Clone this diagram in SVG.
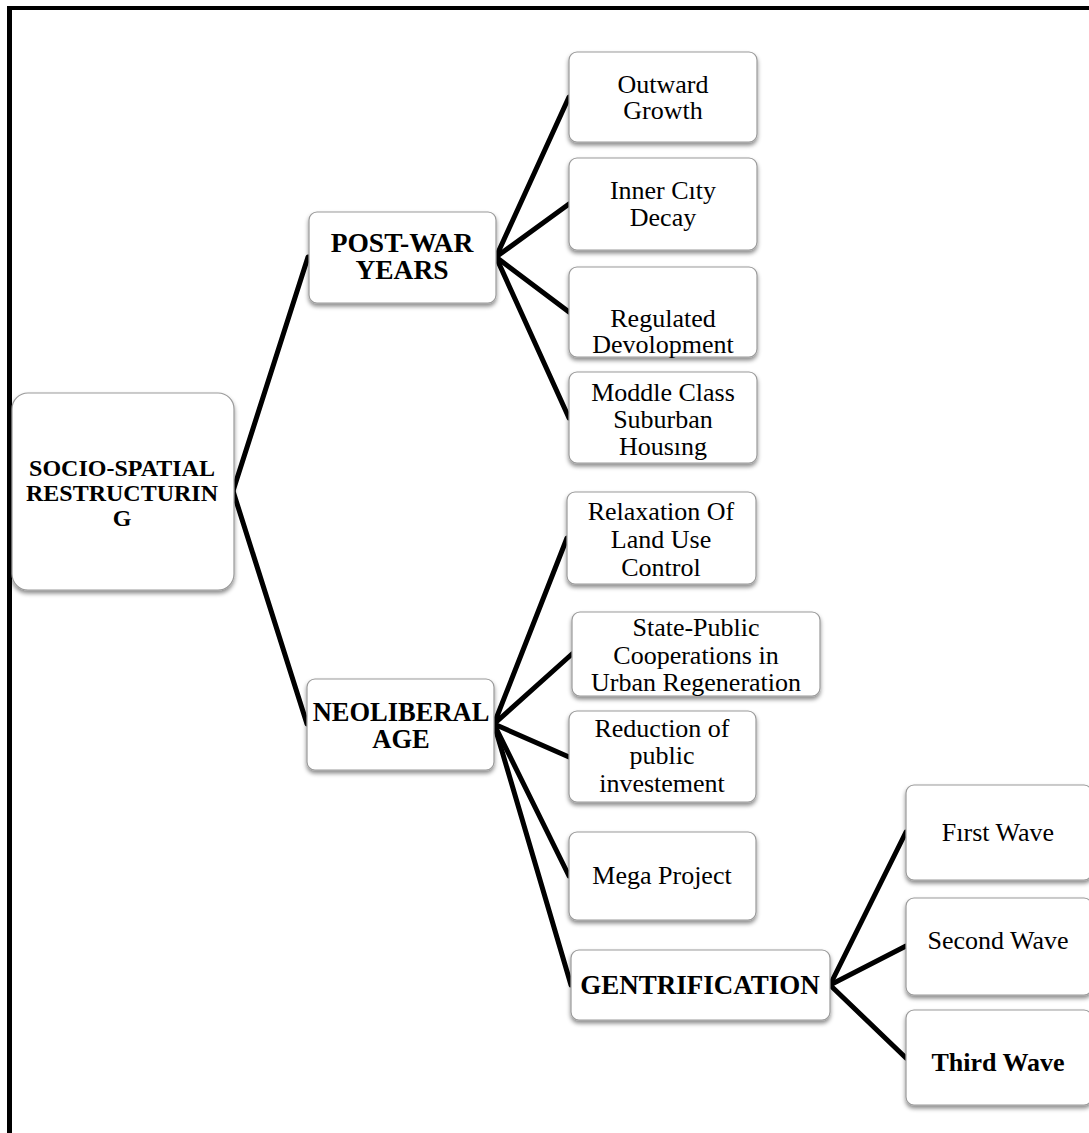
<svg xmlns="http://www.w3.org/2000/svg" width="1089" height="1133" viewBox="0 0 1089 1133">
<defs>
<filter id="sh" x="-10%" y="-10%" width="120%" height="130%">
<feDropShadow dx="0" dy="3" stdDeviation="2" flood-color="#000" flood-opacity="0.45"/>
</filter>
<style>
.box{fill:#fff;stroke:#9a9a9a;stroke-width:1.2;filter:url(#sh)}
.t{font-family:"Liberation Serif","Times New Roman",serif;font-size:26px;fill:#000;text-anchor:middle}
.b{font-weight:bold}
.r{font-size:24px}
.h{font-size:27.5px}
.n{font-size:26.5px}
.g{font-size:27px}
.c line{stroke:#000;stroke-width:5;stroke-linecap:round}
</style>
</defs>
<rect width="1089" height="1133" fill="#fff"/>
<g id="frame">
<rect x="7" y="6" width="1082" height="4" fill="#000"/>
<rect x="7" y="6" width="5" height="1127" fill="#000"/>
</g>
<g class="c" id="connectors">
<line x1="233" y1="491" x2="308" y2="257"/>
<line x1="233" y1="491" x2="307" y2="724"/>
<line x1="496" y1="257" x2="569" y2="97"/>
<line x1="496" y1="257" x2="569" y2="204"/>
<line x1="496" y1="257" x2="569" y2="312"/>
<line x1="496" y1="257" x2="569" y2="418"/>
<line x1="494" y1="724" x2="567" y2="538"/>
<line x1="494" y1="724" x2="572" y2="654"/>
<line x1="494" y1="724" x2="569" y2="757"/>
<line x1="494" y1="724" x2="569" y2="876"/>
<line x1="494" y1="724" x2="571" y2="985"/>
<line x1="830" y1="985" x2="906" y2="832"/>
<line x1="830" y1="985" x2="906" y2="946"/>
<line x1="830" y1="985" x2="906" y2="1058"/>
</g>
<g id="root"><rect class="box" x="12" y="393" width="222" height="197" rx="16"/>
<text class="t b r" x="122" y="476">SOCIO-SPATIAL</text>
<text class="t b r" x="122" y="501">RESTRUCTURIN</text>
<text class="t b r" x="122" y="526">G</text></g>
<g id="postwar"><rect class="box" x="309" y="212" width="187" height="91" rx="8"/>
<text class="t b h" x="402" y="252">POST-WAR</text>
<text class="t b h" x="402" y="279">YEARS</text></g>
<g id="outward"><rect class="box" x="569" y="52" width="188" height="90" rx="8"/>
<text class="t" x="663" y="93">Outward</text>
<text class="t" x="663" y="119">Growth</text></g>
<g id="inner"><rect class="box" x="569" y="158" width="188" height="92" rx="8"/>
<text class="t" x="663" y="199">Inner Cıty</text>
<text class="t" x="663" y="226">Decay</text></g>
<g id="regulated"><rect class="box" x="569" y="267" width="188" height="90" rx="8"/>
<text class="t" x="663" y="327">Regulated</text>
<text class="t" x="663" y="353">Devolopment</text></g>
<g id="moddle"><rect class="box" x="569" y="372" width="188" height="91" rx="8"/>
<text class="t" x="663" y="401">Moddle Class</text>
<text class="t" x="663" y="428">Suburban</text>
<text class="t" x="663" y="455">Housıng</text></g>
<g id="neoliberal"><rect class="box" x="307" y="679" width="187" height="91" rx="8"/>
<text class="t b n" x="401" y="721">NEOLIBERAL</text>
<text class="t b n" x="401" y="748">AGE</text></g>
<g id="relaxation"><rect class="box" x="567" y="492" width="189" height="92" rx="8"/>
<text class="t" x="661" y="520">Relaxation Of</text>
<text class="t" x="661" y="548">Land Use</text>
<text class="t" x="661" y="576">Control</text></g>
<g id="statepublic"><rect class="box" x="572" y="612" width="248" height="84" rx="8"/>
<text class="t" x="696" y="636">State-Public</text>
<text class="t" x="696" y="664">Cooperations in</text>
<text class="t" x="696" y="691">Urban Regeneration</text></g>
<g id="reduction"><rect class="box" x="569" y="711" width="187" height="91" rx="8"/>
<text class="t" x="662" y="737">Reduction of</text>
<text class="t" x="662" y="764">public</text>
<text class="t" x="662" y="792">investement</text></g>
<g id="mega"><rect class="box" x="569" y="832" width="187" height="88" rx="8"/>
<text class="t" x="662" y="884">Mega Project</text></g>
<g id="gentrification"><rect class="box" x="571" y="950" width="259" height="70" rx="8"/>
<text class="t b g" x="700" y="994">GENTRIFICATION</text></g>
<g id="first"><rect class="box" x="906" y="785" width="186" height="95" rx="8"/>
<text class="t" x="998" y="841">Fırst Wave</text></g>
<g id="second"><rect class="box" x="906" y="898" width="186" height="97" rx="8"/>
<text class="t" x="998" y="949">Second Wave</text></g>
<g id="third"><rect class="box" x="906" y="1010" width="186" height="95" rx="8"/>
<text class="t b" x="998" y="1071">Third Wave</text></g>
</svg>
